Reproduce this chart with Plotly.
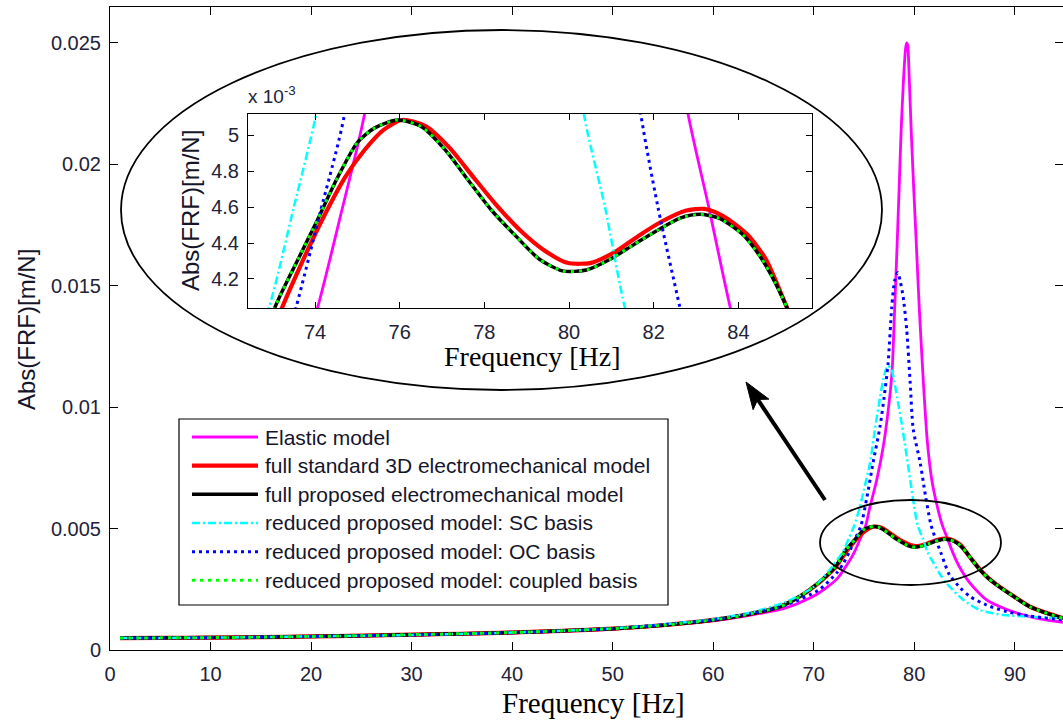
import math
import plotly.graph_objects as go

# ---------------- data ----------------
elastic_f = [1, 10, 20, 30, 40, 50, 60, 64, 67, 70, 72.3, 73.6, 74.06, 74.6, 75.17, 75.6, 76.27,
             76.93, 77.45, 77.8, 78.05, 78.3, 78.5, 78.7, 78.95, 79.15, 79.25, 79.35, 79.5, 79.7,
             79.95, 80.2, 80.5, 80.9, 81.3, 81.75, 82.3, 82.81, 83.3, 83.81, 84.4, 85.55, 87.2,
             88.9, 90.9, 92.8, 94.8]
elastic_v = [0.00048, 0.00050, 0.00055, 0.00061, 0.00070, 0.00086, 0.00120, 0.00146, 0.00170,
             0.00222, 0.00292, 0.00370, 0.00404, 0.00455, 0.00512, 0.0059, 0.0070, 0.0084, 0.0100,
             0.0115, 0.0140, 0.0167, 0.0190, 0.0214, 0.0236, 0.0248, 0.0250, 0.0249, 0.0236, 0.0214,
             0.0190, 0.0168, 0.0141, 0.0111, 0.0086, 0.0070, 0.0059, 0.00512, 0.0046, 0.00404,
             0.0035, 0.00275, 0.00206, 0.00172, 0.00144, 0.00126, 0.00114]

full_f = [1, 5, 10, 15, 20, 25, 30, 35, 40, 45, 50, 55, 60, 63, 66.6, 68.6, 70.6, 72.0, 72.6,
          73.05, 73.6, 74.06, 74.5, 75.0, 75.4, 75.95, 76.5, 77.07, 77.62, 78.18, 78.74, 79.3,
          79.85, 80.41, 80.97, 81.52, 82.08, 82.64, 83.09, 83.53, 84.09, 84.53, 84.87, 85.15,
          85.8, 86.55, 87.3, 88.2, 89.9, 91.5, 93.2, 94.8]
full_v = [0.00049, 0.00050, 0.00051, 0.00053, 0.00056, 0.00059, 0.00063, 0.00067, 0.00072,
          0.00079, 0.00088, 0.00102, 0.00124, 0.00143, 0.00178, 0.00220, 0.00281, 0.00336,
          0.00370, 0.00404, 0.00431, 0.00453, 0.00475, 0.00496, 0.00504, 0.005085, 0.00505,
          0.00492, 0.00475, 0.00458, 0.00444, 0.00431, 0.004245, 0.00425, 0.00431, 0.00439,
          0.00447, 0.00454, 0.00456, 0.00454, 0.00445, 0.00432, 0.00418, 0.00404, 0.00368,
          0.00330, 0.00298, 0.00268, 0.00220, 0.00178, 0.00151, 0.00130]

std3d_f = [1, 5, 10, 15, 20, 25, 30, 35, 40, 45, 50, 55, 60, 63, 66.6, 68.6, 70.6, 72.0, 72.6,
           73.22, 73.61, 74.17, 74.72, 75.17, 75.62, 76.06, 76.62, 77.18, 77.73, 78.29, 78.85,
           79.41, 79.96, 80.52, 81.08, 81.64, 82.19, 82.75, 83.2, 83.64, 84.2, 84.65, 85.15,
           85.8, 86.55, 87.3, 88.2, 89.9, 91.5, 93.2, 94.8]
std3d_v = [0.00049, 0.00050, 0.00051, 0.00053, 0.00056, 0.00059, 0.00063, 0.00067, 0.00072,
           0.00079, 0.00088, 0.00102, 0.00124, 0.00143, 0.00178, 0.00220, 0.00280, 0.00333,
           0.00366, 0.00404, 0.00425, 0.00453, 0.00477, 0.004918, 0.00503, 0.005085, 0.00505,
           0.00493, 0.00477, 0.00461, 0.00447, 0.00436, 0.00429, 0.00429, 0.00435, 0.00444,
           0.00452, 0.00458, 0.00459, 0.00455, 0.00445, 0.00431, 0.00404, 0.00369, 0.00331,
           0.00299, 0.00269, 0.00221, 0.00179, 0.00152, 0.00131]

sc_f = [1, 10, 20, 30, 40, 50, 60, 64, 67.3, 70, 71.6, 72.4, 72.91, 73.5, 74.03, 74.6, 75.0,
        75.6, 76.1, 76.6, 76.95, 77.35, 77.7, 78.0, 78.3, 78.6, 79.1, 79.6, 80.0, 80.35, 80.85,
        81.32, 81.9, 82.6, 83.2, 84.9, 86.5, 88.9, 91.5, 94.8]
sc_v = [0.00049, 0.00051, 0.00056, 0.00062, 0.00072, 0.00089, 0.00127, 0.00157, 0.00199, 0.0026,
        0.00330, 0.00375, 0.00404, 0.00460, 0.00512, 0.0059, 0.0066, 0.0077, 0.0091, 0.0104,
        0.0112, 0.0117, 0.0116, 0.0111, 0.0104, 0.0097, 0.0084, 0.0070, 0.0059, 0.00512, 0.0046,
        0.00404, 0.0036, 0.0031, 0.00275, 0.00206, 0.00165, 0.00144, 0.00137, 0.0013]

oc_f = [1, 10, 20, 30, 40, 50, 60, 64, 67.3, 70.6, 72.3, 73.0, 73.55, 74.1, 74.7, 75.3, 75.9,
        76.6, 77.0, 77.4, 77.76, 78.05, 78.35, 78.6, 78.9, 79.25, 79.6, 79.9, 80.6, 81.1, 81.64,
        82.1, 82.62, 83.5, 84.6, 85.55, 87.2, 89.2, 91.5, 94.8]
oc_v = [0.00049, 0.00051, 0.00056, 0.00062, 0.00071, 0.00088, 0.00124, 0.00152, 0.00186, 0.00250,
        0.00318, 0.00360, 0.00404, 0.00455, 0.00512, 0.0063, 0.0077, 0.0092, 0.0104, 0.0118,
        0.0141, 0.0152, 0.01555, 0.0152, 0.01455, 0.0132, 0.0110, 0.0091, 0.0077, 0.0064,
        0.00520, 0.00460, 0.00404, 0.0031, 0.00255, 0.0022, 0.00185, 0.00158, 0.0014, 0.00124]

coupled_f = full_f
coupled_v = [0.00049, 0.00050, 0.00051, 0.00053, 0.00056, 0.00059, 0.00063, 0.00067, 0.00072,
             0.00079, 0.00088, 0.00102, 0.00124, 0.00143, 0.00178, 0.00220, 0.00281, 0.00336,
             0.00370, 0.00404, 0.00431, 0.00453, 0.00475, 0.00496, 0.00504, 0.005085, 0.00505,
             0.00492, 0.00475, 0.00458, 0.00444, 0.00431, 0.004245, 0.00425, 0.00431, 0.00439,
             0.00447, 0.00454, 0.00456, 0.00454, 0.00445, 0.00432, 0.00418, 0.00404, 0.00368,
             0.00330, 0.00298, 0.00268, 0.00220, 0.00178, 0.00151, 0.00130]

series_names = ["Elastic model",
                "full standard 3D electromechanical model",
                "full proposed electromechanical model",
                "reduced proposed model: SC basis",
                "reduced proposed model: OC basis",
                "reduced proposed model: coupled basis"]

main_xticks = [0, 10, 20, 30, 40, 50, 60, 70, 80, 90]
main_yticks = [0, 0.005, 0.01, 0.015, 0.02, 0.025]
main_yticktext = ["0", "0.005", "0.01", "0.015", "0.02", "0.025"]
inset_xticks = [74, 76, 78, 80, 82, 84]
inset_yticks = [0.0042, 0.0044, 0.0046, 0.0048, 0.0050]
inset_yticktext = ["4.2", "4.4", "4.6", "4.8", "5"]

# ---------------- styles ----------------
styles = [
    dict(color="#ff00ff", width=2.8, dash="solid"),
    dict(color="#ff0000", width=4.2, dash="solid"),
    dict(color="#000000", width=3.5, dash="solid"),
    dict(color="#00ffff", width=2.5, dash="8px,3px,2px,3px"),
    dict(color="#0000ff", width=3.0, dash="3px,4px"),
    dict(color="#00ff00", width=3.0, dash="3px,5px"),
]
data = [(elastic_f, elastic_v), (std3d_f, std3d_v), (full_f, full_v),
        (sc_f, sc_v), (oc_f, oc_v), (coupled_f, coupled_v)]

W, H = 1063, 720
ML, MR, MT, MB = 110, 0, 7, 70
PW = W - ML - MR
PH = H - MT - MB


def px(x):
    return (x - ML) / PW


def py(y):
    return (H - MB - y) / PH


fig = go.Figure()
for (f, v), st, name in zip(data, styles, series_names):
    for xa, ya in (("x", "y"), ("x2", "y2")):
        fig.add_trace(go.Scatter(
            x=f, y=v, mode="lines", name=name, showlegend=False,
            xaxis=xa, yaxis=ya,
            line=dict(color=st["color"], width=st["width"], dash=st["dash"],
                      shape="spline", smoothing=0.7),
            hoverinfo="skip"))

tickfont = dict(family="Liberation Sans, Arial", size=20, color="#222238")
axis_common = dict(showline=True, linecolor="black", linewidth=1, mirror="ticks",
                   ticks="inside", tickcolor="black", showgrid=False, zeroline=False)

fig.update_layout(
    width=W, height=H,
    margin=dict(l=ML, r=MR, t=MT, b=MB, pad=0),
    paper_bgcolor="white", plot_bgcolor="white",
    showlegend=False,
    xaxis=dict(domain=[0, 1], range=[0, 94.8], tickvals=main_xticks, ticklen=8,
               tickfont=tickfont, ticklabelstandoff=6, **axis_common),
    yaxis=dict(domain=[0, 1], range=[0, 0.02648], tickvals=main_yticks, ticktext=main_yticktext,
               ticklen=8, tickfont=tickfont, ticklabelstandoff=4, **axis_common),
    xaxis2=dict(domain=[px(248), px(812)], anchor="y2", range=[72.417, 85.739],
                tickvals=inset_xticks, ticklen=6, tickfont=tickfont,
                ticklabelstandoff=6, **axis_common),
    yaxis2=dict(domain=[py(308), py(114)], anchor="x2", range=[0.0040385, 0.0051186],
                tickvals=inset_yticks, ticktext=inset_yticktext, ticklen=6,
                tickfont=tickfont, ticklabelstandoff=4, **axis_common),
)

shapes = []
# ellipses
shapes.append(dict(type="circle", xref="paper", yref="paper", x0=px(121), x1=px(882),
                   y0=py(390), y1=py(30), line=dict(color="black", width=1.8), layer="above"))
shapes.append(dict(type="circle", xref="paper", yref="paper", x0=px(820), x1=px(1001),
                   y0=py(585), y1=py(500), line=dict(color="black", width=1.8), layer="above"))
# legend box
shapes.append(dict(type="rect", xref="paper", yref="paper", x0=px(179), x1=px(668),
                   y0=py(605), y1=py(419), line=dict(color="black", width=1.2),
                   fillcolor="white", layer="above"))
annotations = []
row0, drow = 437, 28.66
for i, (st, name) in enumerate(zip(styles, series_names)):
    yy = row0 + i * drow
    shapes.append(dict(type="line", xref="paper", yref="paper", x0=px(192), x1=px(258),
                       y0=py(yy), y1=py(yy), layer="above",
                       line=dict(color=st["color"], width=st["width"], dash=st["dash"])))
    annotations.append(dict(text=name, xref="paper", yref="paper", x=px(263), y=py(yy),
                            xanchor="left", yanchor="middle", showarrow=False,
                            font=dict(family="Liberation Sans, Arial", size=21, color="#15152a")))

# arrow (shaft + notched head)
tip = (746.0, 382.0)
tail = (825.0, 500.0)
dx, dy = tail[0] - tip[0], tail[1] - tip[1]
L = math.hypot(dx, dy)
ux, uy = dx / L, dy / L
nx, ny = -uy, ux
head_len, half_w, notch = 27.0, 9.5, 21.0
c1 = (tip[0] + head_len * ux + half_w * nx, tip[1] + head_len * uy + half_w * ny)
c2 = (tip[0] + head_len * ux - half_w * nx, tip[1] + head_len * uy - half_w * ny)
nb = (tip[0] + notch * ux, tip[1] + notch * uy)
shapes.append(dict(type="line", xref="paper", yref="paper", x0=px(nb[0]), y0=py(nb[1]),
                   x1=px(tail[0]), y1=py(tail[1]), line=dict(color="black", width=4),
                   layer="above"))
pts = [tip, c1, nb, c2]
path = "M " + " L ".join(f"{px(a):.5f},{py(b):.5f}" for a, b in pts) + " Z"
shapes.append(dict(type="path", xref="paper", yref="paper", path=path,
                   fillcolor="black", line=dict(color="black", width=1), layer="above"))

# titles
annotations.append(dict(text="Frequency [Hz]", xref="paper", yref="paper", x=px(593), y=py(703),
                        xanchor="center", yanchor="middle", showarrow=False,
                        font=dict(family="Liberation Serif, Times New Roman", size=29, color="black")))
annotations.append(dict(text="Abs(FRF)[m/N]", xref="paper", yref="paper", x=px(27), y=py(330),
                        xanchor="center", yanchor="middle", showarrow=False, textangle=-90,
                        font=dict(family="Liberation Sans, Arial", size=24, color="#15152a")))
annotations.append(dict(text="Frequency [Hz]", xref="paper", yref="paper", x=px(532), y=py(356),
                        xanchor="center", yanchor="middle", showarrow=False,
                        font=dict(family="Liberation Serif, Times New Roman", size=28, color="black")))
annotations.append(dict(text="Abs(FRF)[m/N]", xref="paper", yref="paper", x=px(190), y=py(211),
                        xanchor="center", yanchor="middle", showarrow=False, textangle=-90,
                        font=dict(family="Liberation Sans, Arial", size=24, color="#15152a")))
annotations.append(dict(text="x 10<sup>-3</sup>", xref="paper", yref="paper", x=px(246), y=py(95),
                        xanchor="left", yanchor="middle", showarrow=False,
                        font=dict(family="Liberation Sans, Arial", size=19, color="#222238")))

fig.update_layout(shapes=shapes, annotations=annotations)

fig.write_html("out.html", config={"displayModeBar": False},
               post_script="document.body.style.margin='0';")
